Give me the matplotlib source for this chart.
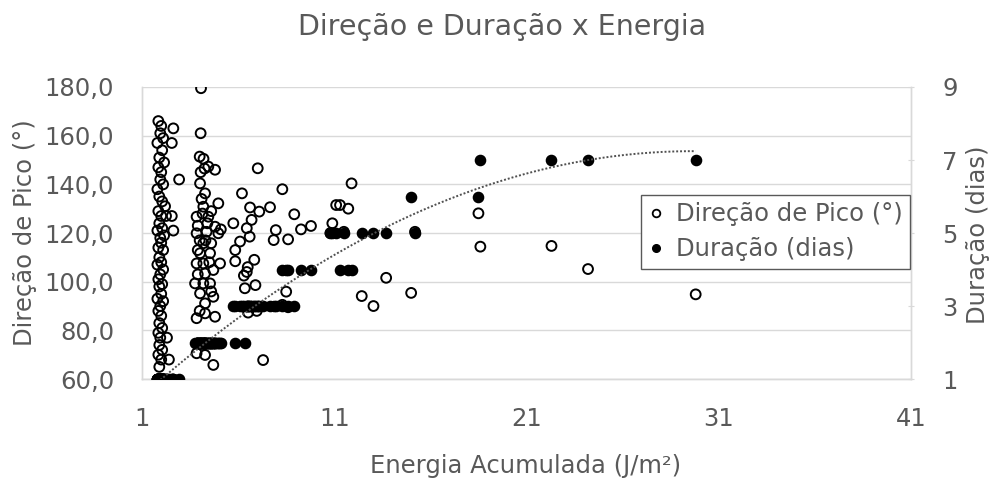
import numpy as np
import matplotlib
matplotlib.use("Agg")
import matplotlib.pyplot as plt
from matplotlib.ticker import FuncFormatter, FixedLocator
from matplotlib.lines import Line2D

plt.rcParams['font.family'] = ['DejaVu Sans']

# ---- data: one entry per event (energy, peak direction, duration) ----
energia = [
    # duration 1
    1.85, 2.00, 1.95, 2.10, 1.80, 2.05, 1.90, 2.15, 1.85, 2.00, 1.95, 2.10, 1.80, 1.90, 2.05,
    2.20, 1.85, 2.00, 2.25, 1.90, 2.05, 1.80, 2.15, 1.95, 2.00, 1.85, 2.10, 1.90, 2.00, 1.80,
    2.10, 1.95, 1.85, 2.05, 1.90, 2.00, 1.80, 2.10, 1.95, 1.85, 2.00, 1.90, 2.05, 1.85, 1.95,
    1.90, 2.05, 1.85, 2.00, 1.90, 2.63, 2.55, 2.93, 2.55, 2.63, 2.30, 2.40,
    # duration 2
    4.07, 4.05, 4.00, 4.20, 4.45, 4.80, 4.25, 4.02, 4.28, 4.97, 4.19, 3.84, 4.45, 4.80, 3.84,
    4.36, 4.97, 5.10, 4.19, 4.60, 4.02, 4.54, 5.06, 4.19, 3.84, 4.28, 4.71, 4.19, 3.76, 4.54,
    4.02, 4.71, 4.28, 3.84, 4.28, 4.80, 3.84, 4.28, 4.71, 3.90, 4.40, 4.10, 4.60, 3.90, 4.50,
    4.00, 4.60, 3.90, 4.30, 4.05, 4.15, 4.00, 5.85, 6.35,
    # duration 3
    5.75, 5.85, 6.10, 6.20, 6.30, 6.45, 6.50, 6.52, 6.62, 6.70, 6.84, 6.90, 6.97, 7.02, 7.10,
    7.30, 7.66, 7.85, 7.96, 8.30, 8.60, 8.92, 6.60, 6.45,
    # duration 4
    8.30, 8.50, 8.60, 9.27, 9.79, 11.30, 11.73, 11.90,
    # duration 5
    10.80, 10.90, 11.10, 11.50, 12.43, 13.04, 13.70, 15.20,
    # duration 6
    15.00, 18.50,
    # duration 7
    18.60, 22.30, 24.20, 29.80,
]
direcao = [
    166, 164, 161, 159, 157, 154, 151, 149, 147, 145, 142, 140, 138, 135, 133,
    131, 129, 127, 127, 124, 122, 121, 119, 118, 116, 114, 113, 110, 108, 107,
    105, 103, 101, 99, 98, 95, 93, 92, 90, 88, 86, 83, 81, 79, 77,
    74, 72, 70, 68, 65, 163, 157, 142, 127, 121, 77, 68,
    179.5, 161, 151.4, 150.5, 147.3, 146, 146.5, 140.4, 136.3, 132.2, 130.8, 126.7, 126.7, 122.6, 119.9,
    120.5, 119.9, 121.5, 115.8, 115.8, 111.7, 111.7, 107.5, 107.5, 107.5, 103.4, 104.8, 99.3, 99.3, 99.3,
    95.2, 93.8, 91.1, 85.0, 87.0, 85.6, 70.6, 69.9, 65.8, 113, 124, 134, 129, 103, 108,
    88, 96, 123, 117, 145, 128, 117, 108.4, 97.3,
    124, 113, 116.5, 136.3, 102.5, 104, 106, 87.3, 130.5, 125.4, 109, 98.6, 88, 146.6, 128.8,
    67.8, 130.6, 117.1, 121.2, 90.5, 89.5, 127.7, 118.5, 122,
    138, 95.9, 117.4, 121.5, 122.9, 131.5, 130, 140.4,
    120, 124, 131.5, 120.5, 94.1, 90, 101.6, 120.5,
    95.4, 128.1,
    114.4, 114.7, 105.2, 94.8,
]
duracao = ([1] * 57 + [2] * 54 + [3] * 24 + [4] * 8 + [5] * 8 + [6] * 2 + [7] * 4)

x_ticks = [1, 11, 21, 31, 41]
y_ticks = [60, 80, 100, 120, 140, 160, 180]
y2_ticks = [1, 3, 5, 7, 9]

titulo = "Direção e Duração x Energia"
x_label = "Energia Acumulada (J/m²)"
y_label = "Direção de Pico (°)"
y2_label = "Duração (dias)"
serie1 = "Direção de Pico (°)"
serie2 = "Duração (dias)"

TXT = "#595959"
GRID = "#d9d9d9"
W, H = 1000, 478

fig = plt.figure(figsize=(W / 100, H / 100), dpi=100)
ax = fig.add_axes([0.142, 0.207, 0.769, 0.611])
ax2 = ax.twinx()

ax.set_xlim(1, 41)
ax.set_ylim(60, 180)
ax2.set_ylim(1, 9)

ax.xaxis.set_major_locator(FixedLocator(x_ticks))
ax.yaxis.set_major_locator(FixedLocator(y_ticks))
ax2.yaxis.set_major_locator(FixedLocator(y2_ticks))
ax.yaxis.set_major_formatter(FuncFormatter(lambda v, p: f"{v:.1f}".replace('.', ',')))

ax.grid(axis='y', color=GRID, linewidth=1.0, zorder=0)
ax.set_axisbelow(True)

for a in (ax, ax2):
    for s in a.spines.values():
        s.set_color(GRID)
        s.set_linewidth(1.0)
    a.spines['top'].set_visible(False)

FS = 17.5
ax.tick_params(axis='y', length=0, labelsize=FS, labelcolor=TXT, pad=20)
ax.tick_params(axis='x', length=0, labelsize=FS, labelcolor=TXT, pad=20)
ax2.tick_params(axis='y', length=5, direction='inout', color=GRID, labelsize=FS,
                labelcolor=TXT, pad=20)

ax.scatter(energia, direcao, s=50, facecolors='none', edgecolors='black',
           linewidths=1.4, zorder=3)

ax2.scatter(energia, duracao, s=54, facecolors='black', edgecolors='black',
            linewidths=1.0, zorder=3)

coef = np.polyfit(energia, duracao, 2)
xs = np.linspace(min(energia), max(energia), 300)
ax2.plot(xs, np.polyval(coef, xs), color='#505050', linewidth=1.4,
         linestyle=(0, (1, 1.0)), zorder=4)

fig.text(502 / W, 1 - 27 / H, titulo, fontsize=20.5, color=TXT, ha='center', va='center')
fig.text(526 / W, 1 - 466 / H, x_label, fontsize=FS, color=TXT, ha='center', va='center')
fig.text(25 / W, 1 - 233 / H, y_label, fontsize=FS, color=TXT, ha='center', va='center',
         rotation=90)
fig.text(978 / W, 1 - 235 / H, y2_label, fontsize=FS, color=TXT, ha='center', va='center',
         rotation=90)

handles = [
    Line2D([], [], marker='o', linestyle='none', markersize=5.5, markerfacecolor='white',
           markeredgecolor='black', markeredgewidth=1.3),
    Line2D([], [], marker='o', linestyle='none', markersize=5.5, markerfacecolor='black',
           markeredgecolor='black'),
]
leg = ax2.legend(handles, [serie1, serie2], loc='upper left', bbox_to_anchor=(0.649, 0.63),
                 fontsize=FS, frameon=True, fancybox=False, framealpha=1,
                 edgecolor='#595959', handlelength=0.6, handletextpad=0.55,
                 borderpad=0.3, labelspacing=0.45, borderaxespad=0)
leg.get_frame().set_linewidth(1.0)
for t in leg.get_texts():
    t.set_color(TXT)

fig.savefig("out.png", dpi=100)
